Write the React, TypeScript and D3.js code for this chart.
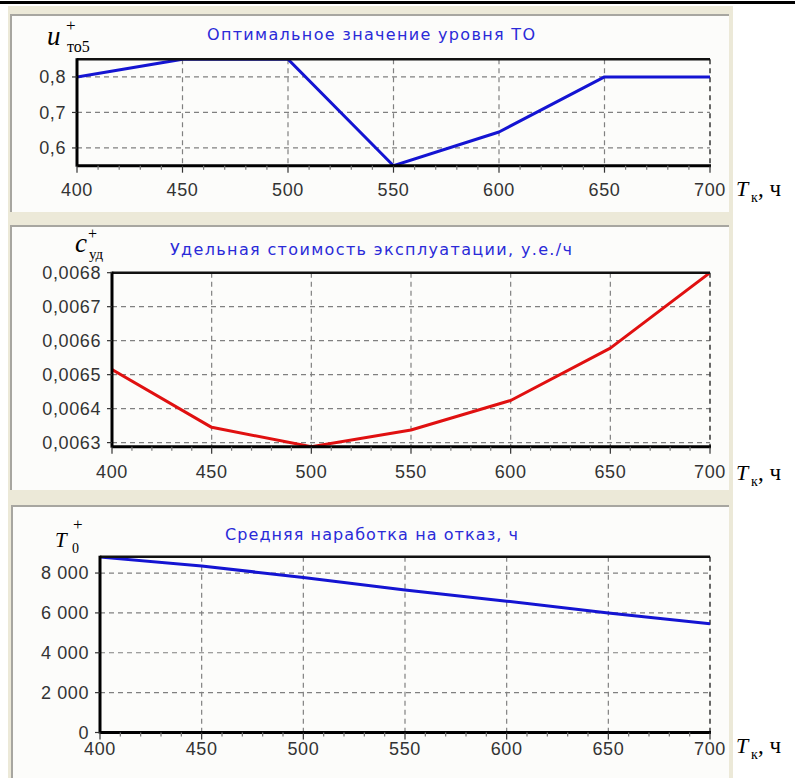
import React from 'react';
import * as d3 from 'd3';

// Tк, ч
const tk = [400, 450, 500, 550, 600, 650, 700];
const uTo5 = [0.8, 0.85, 0.85, 0.55, 0.645, 0.8, 0.8];
const cUd = [0.006515, 0.006345, 0.006288, 0.006337, 0.006424, 0.006578, 0.0068];
const t0 = [8800, 8352, 7780, 7145, 6590, 6000, 5450];

const xTicks = [400, 450, 500, 550, 600, 650, 700];
const uTicks = [0.6, 0.7, 0.8];
const uTickLabels = ['0,6', '0,7', '0,8'];
const cTicks = [0.0063, 0.0064, 0.0065, 0.0066, 0.0067, 0.0068];
const cTickLabels = ['0,0063', '0,0064', '0,0065', '0,0066', '0,0067', '0,0068'];
const t0Ticks = [0, 2000, 4000, 6000, 8000];
const t0TickLabels = ['0', '2 000', '4 000', '6 000', '8 000'];

const titles = [
    'Оптимальное значение уровня ТО',
    'Удельная стоимость эксплуатации, у.е./ч',
    'Средняя наработка на отказ, ч'
];

const tickFont = '"Liberation Sans", Arial, sans-serif';
const titleFont = '"DejaVu Sans", Verdana, sans-serif';
const serif = '"Liberation Serif", "Times New Roman", serif';

type PanelProps = {
    id: string,
    box: { x: number, y: number, w: number, h: number },
    plot: { left: number, right: number, top: number, bottom: number },
    yDomain: [number, number],
    values: number[],
    color: string,
    ticks: number[],
    tickLabels: string[],
    title: string,
    titleX: number,
    titleY: number,
    titleLen: number,
    xLabelY: number,
    tkY: number,
    children?: React.ReactNode
};

function Panel(p: PanelProps) {
    const { plot } = p;
    const x = d3.scaleLinear().domain([400, 700]).range([plot.left, plot.right]);
    const y = d3.scaleLinear().domain(p.yDomain).range([plot.bottom, plot.top]);
    const line = d3.line<number>().x((d, i) => x(tk[i])).y(d => y(d));
    const minor = d3.range(400, 701, 10);

    return <g>
        <defs>
            <clipPath id={p.id}>
                <rect x={plot.left} y={plot.top} width={plot.right - plot.left} height={plot.bottom - plot.top} />
            </clipPath>
        </defs>
        <rect x={p.box.x} y={p.box.y} width={p.box.w} height={p.box.h} fill="#fcfcfa" />
        <path d={`M${p.box.x},${p.box.y + p.box.h}V${p.box.y}H${p.box.x + p.box.w}`} fill="none" stroke="#a7a6a0" strokeWidth={2} />

        <text x={p.titleX} y={p.titleY} fontFamily={titleFont} fontSize={16} fill="#2a2ad8"
            textLength={p.titleLen} lengthAdjust="spacing">{p.title}</text>

        {/* grid */}
        {p.ticks.map(t => <line key={'h' + t} x1={plot.left} x2={plot.right} y1={y(t)} y2={y(t)}
            stroke="#808080" strokeWidth={1.2} strokeDasharray="5,4" />)}
        {xTicks.slice(1).map(t => <line key={'v' + t} x1={x(t)} x2={x(t)} y1={plot.top} y2={plot.bottom}
            stroke={t === 700 ? '#444' : '#808080'} strokeWidth={t === 700 ? 1.6 : 1.2} strokeDasharray="5,4" />)}

        {/* series */}
        <path d={line(p.values) || ''} fill="none" stroke={p.color} strokeWidth={3} strokeLinejoin="round"
            clipPath={`url(#${p.id})`} />

        {/* frame */}
        <line x1={plot.left} x2={plot.right} y1={plot.top} y2={plot.top} stroke="#111" strokeWidth={2.5} />
        <line x1={plot.left} x2={plot.right + 1} y1={plot.bottom} y2={plot.bottom} stroke="#000" strokeWidth={3} />
        <line x1={plot.left} x2={plot.left} y1={plot.top - 1} y2={plot.bottom + 1} stroke="#000" strokeWidth={3} />

        {/* y ticks */}
        {p.ticks.map((t, i) => <g key={'yt' + t}>
            <line x1={plot.left - 5} x2={plot.left} y1={y(t)} y2={y(t)} stroke="#333" strokeWidth={1.2} />
            <text x={plot.left - 11} y={y(t)} dy="0.35em" textAnchor="end" fontFamily={tickFont}
                fontSize={18} letterSpacing={0.6} fill="#333">{p.tickLabels[i]}</text>
        </g>)}

        {/* x ticks */}
        {minor.map(t => <line key={'m' + t} x1={x(t)} x2={x(t)} y1={plot.bottom} y2={plot.bottom + (t % 50 === 0 ? 7 : 4)}
            stroke={t % 50 === 0 ? '#333' : '#777'} strokeWidth={1.2} />)}
        {xTicks.map(t => <text key={'xl' + t} x={x(t)} y={p.xLabelY} textAnchor="middle" fontFamily={tickFont}
            fontSize={18} letterSpacing={0.6} fill="#333">{t}</text>)}

        {p.children}

        {/* Tк, ч */}
        <text x={736} y={p.tkY} fontFamily={serif} fontSize={22} fontStyle="italic" fill="#000">T</text>
        <text x={751} y={p.tkY + 6} fontFamily={serif} fontSize={14} fill="#000">к</text>
        <text x={758} y={p.tkY} fontFamily={serif} fontSize={23} fill="#000">, ч</text>
    </g>
}

export default function App() {
    return <svg width={795} height={778} style={{ position: 'absolute', left: 0, top: 0 }}>
        <rect x={0} y={0} width={795} height={778} fill="#fff" />
        <rect x={0} y={1} width={795} height={3} fill="#000" />
        <rect x={8} y={6} width={725} height={772} fill="#ece9d8" />

        <Panel id="c1" box={{ x: 11, y: 15, w: 718, h: 197 }}
            plot={{ left: 77, right: 710, top: 59.2, bottom: 165.7 }}
            yDomain={[0.55, 0.85]} values={uTo5} color="#1414d2"
            ticks={uTicks} tickLabels={uTickLabels}
            title={titles[0]} titleX={207} titleY={40} titleLen={328}
            xLabelY={196} tkY={196}>
            <text x={47} y={45} fontFamily={serif} fontSize={27} fontStyle="italic">u</text>
            <text x={66} y={31} fontFamily={serif} fontSize={17}>+</text>
            <text x={67} y={52} fontFamily={serif} fontSize={16}>то5</text>
        </Panel>

        <Panel id="c2" box={{ x: 11, y: 226, w: 718, h: 264 }}
            plot={{ left: 112, right: 710, top: 272.7, bottom: 446.7 }}
            yDomain={[0.006288, 0.0068]} values={cUd} color="#e01010"
            ticks={cTicks} tickLabels={cTickLabels}
            title={titles[1]} titleX={170} titleY={255} titleLen={402}
            xLabelY={478} tkY={480}>
            <text x={75} y={252} fontFamily={serif} fontSize={27} fontStyle="italic">c</text>
            <text x={88} y={239} fontFamily={serif} fontSize={16}>+</text>
            <text x={89} y={259} fontFamily={serif} fontSize={15}>уд</text>
        </Panel>

        <Panel id="c3" box={{ x: 12, y: 506, w: 717, h: 272 }}
            plot={{ left: 100, right: 710, top: 556.7, bottom: 732.5 }}
            yDomain={[0, 8820]} values={t0} color="#1414d2"
            ticks={t0Ticks} tickLabels={t0TickLabels}
            title={titles[2]} titleX={225} titleY={540} titleLen={293}
            xLabelY={755} tkY={753}>
            <text x={55} y={547} fontFamily={serif} fontSize={21} fontStyle="italic">T</text>
            <text x={73} y={530} fontFamily={serif} fontSize={17}>+</text>
            <text x={72} y={553} fontFamily={serif} fontSize={14}>0</text>
        </Panel>
    </svg>
}
